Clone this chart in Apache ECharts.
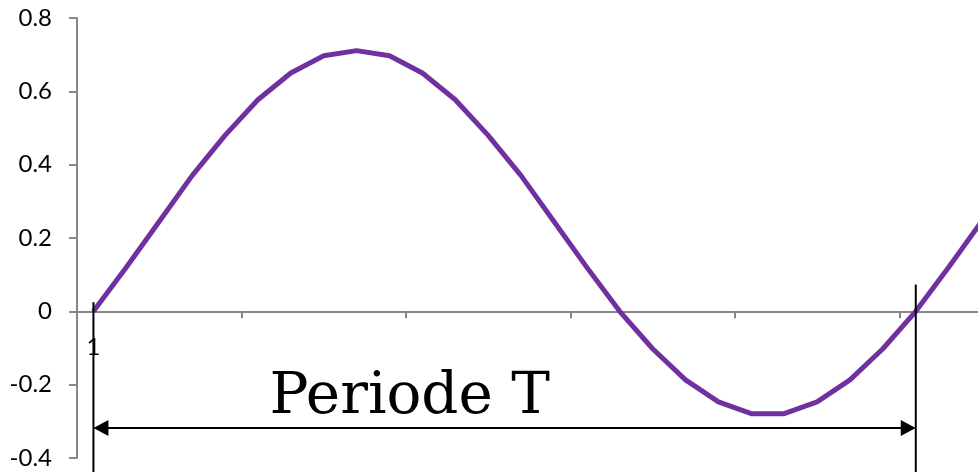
<!DOCTYPE html>
<html>
<head>
<meta charset="utf-8">
<script src="https://cdn.jsdelivr.net/npm/echarts@6/dist/echarts.min.js"></script>
<style>
  html, body { margin: 0; padding: 0; background: #fff; }
  #chart { width: 978px; height: 472px; }
</style>
</head>
<body>
<div id="chart"></div>
<script>
// Sample index along the x axis
const categories = ['1','2','3','4','5','6','7','8','9','10','11','12','13','14','15','16','17','18','19','20','21','22','23','24','25','26','27','28'];
// Measured signal values
const signal = [0, 0.12, 0.245, 0.37, 0.48, 0.577, 0.65, 0.697, 0.711, 0.697, 0.65, 0.577, 0.48, 0.37, 0.245, 0.12, 0, -0.102, -0.187, -0.247, -0.279, -0.279, -0.247, -0.187, -0.102, 0, 0.12, 0.245];
// Value axis ticks
const yTicks = [-0.4, -0.2, 0, 0.2, 0.4, 0.6, 0.8];

// Period bracket: from first sample to the sample one period later
const periodStartIndex = 0;
const periodEndIndex = 25;
const periodArrowLevel = -0.318;
const periodLabel = 'Periode T';

const chart = echarts.init(document.getElementById('chart'), null, { renderer: 'canvas' });

const axisGray = '#878787';
const labelFont = 'Lato';
const labelSize = 24;

chart.setOption({
  animation: false,
  backgroundColor: '#ffffff',
  grid: { left: 77, top: 18, width: 921, bottom: 14, containLabel: false, outerBoundsMode: 'none' },
  xAxis: {
    type: 'category',
    data: categories,
    boundaryGap: true,
    axisLine: { onZero: true, lineStyle: { color: axisGray, width: 2 } },
    axisTick: { show: true, interval: 4, length: 7, lineStyle: { color: axisGray, width: 2 } },
    // the single category label is drawn next to the zero line below
    axisLabel: { show: false },
    splitLine: { show: false }
  },
  yAxis: {
    type: 'value',
    min: yTicks[0],
    max: yTicks[yTicks.length - 1],
    interval: 0.2,
    axisLine: { show: true, lineStyle: { color: axisGray, width: 2 } },
    axisTick: { show: true, length: 8, lineStyle: { color: axisGray, width: 2 } },
    axisLabel: {
      color: '#000',
      fontFamily: labelFont,
      fontSize: labelSize,
      margin: 25,
      formatter: (v) => String(Math.round(v * 10) / 10)
    },
    splitLine: { show: false }
  },
  series: [{
    type: 'line',
    data: signal,
    showSymbol: false,
    symbol: 'none',
    lineStyle: { color: '#7030A0', width: 5, join: 'round' },
    z: 3
  }]
});

// Annotations placed through the chart's own coordinate conversion
function px(idx, val) {
  return chart.convertToPixel({ gridIndex: 0 }, [idx, val]);
}
const a = px(periodStartIndex, periodArrowLevel);
const b = px(periodEndIndex, periodArrowLevel);
const leftTop = px(periodStartIndex, 0.025);
const rightTop = px(periodEndIndex, 0.073);
const textA = px(5, -0.235);
const textB = px(6, -0.235);
const textX = textA[0] + (textB[0] - textA[0]) * 0.35;
const firstCat = px(0, 0);
const bottomY = 472;
const head = 15, half = 8;

chart.setOption({
  graphic: [
    { type: 'text', x: firstCat[0], y: firstCat[1] + 24, style: { text: categories[0], fill: '#000', font: labelSize + 'px ' + labelFont, align: 'center', verticalAlign: 'top' }, z: 9 },
    { type: 'line', shape: { x1: leftTop[0], y1: leftTop[1], x2: leftTop[0], y2: bottomY }, style: { stroke: '#000', lineWidth: 2 }, z: 10 },
    { type: 'line', shape: { x1: rightTop[0], y1: rightTop[1], x2: rightTop[0], y2: bottomY }, style: { stroke: '#000', lineWidth: 2 }, z: 10 },
    { type: 'line', shape: { x1: a[0] + head - 2, y1: a[1], x2: b[0] - head + 2, y2: b[1] }, style: { stroke: '#000', lineWidth: 2 }, z: 10 },
    { type: 'polygon', shape: { points: [[a[0], a[1]], [a[0] + head, a[1] - half], [a[0] + head, a[1] + half]] }, style: { fill: '#000' }, z: 10 },
    { type: 'polygon', shape: { points: [[b[0], b[1]], [b[0] - head, b[1] - half], [b[0] - head, b[1] + half]] }, style: { fill: '#000' }, z: 10 },
    { type: 'text', x: textX, y: textA[1], style: { text: periodLabel, fill: '#000', font: '58px "DejaVu Serif"', align: 'left', verticalAlign: 'middle' }, z: 10 }
  ]
});
</script>
</body>
</html>
